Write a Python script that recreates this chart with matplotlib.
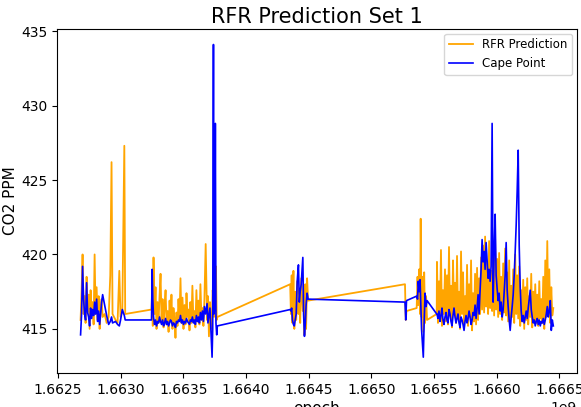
"""RFR prediction vs Cape Point CO2 observations (set 1)."""

import matplotlib

matplotlib.use("Agg")
import matplotlib.pyplot as plt  # noqa: E402
import numpy as np  # noqa: E402

# epoch timestamps in thousands of seconds, one list per observation run
T_RUN1 = [1662681, 1662689, 1662697, 1662705, 1662713, 1662721, 1662729, 1662737,
          1662745, 1662753, 1662761, 1662769, 1662777, 1662785, 1662793, 1662801,
          1662809, 1662817, 1662825, 1662833, 1662841, 1662849, 1662857, 1662873,
          1662889, 1662905, 1662918, 1662928, 1662936, 1662960, 1662976, 1662990,
          1663000, 1663014, 1663030, 1663037]
RFR_RUN1 = [415.6, 417.5, 420.0, 416.0, 417.2, 415.4, 418.5, 416.2, 417.3, 415.0,
            417.6, 416.0, 416.8, 415.3, 420.0, 416.0, 417.8, 415.6, 417.2, 415.0,
            416.5, 417.0, 415.8, 416.0, 415.4, 415.8, 418.6, 426.2, 416.0, 415.6,
            415.4, 418.9, 415.8, 416.2, 427.3, 416.0]
CAPE_RUN1 = [414.6, 416.0, 419.2, 417.0, 416.0, 415.6, 418.1, 416.1, 415.8, 415.2,
             416.4, 415.7, 416.3, 415.9, 416.8, 416.0, 417.0, 415.5, 416.2, 415.3,
             416.0, 416.8, 417.3, 416.6, 415.9, 415.3, 415.5, 415.8, 415.4, 415.5,
             415.3, 415.2, 415.6, 416.3, 415.9, 415.6]

T_RUN2 = [1663247, 1663252, 1663257, 1663263, 1663271, 1663279, 1663287, 1663295,
          1663303, 1663311, 1663319, 1663327, 1663335, 1663343, 1663351, 1663359,
          1663367, 1663375, 1663383, 1663391, 1663398, 1663406, 1663414, 1663422,
          1663430, 1663438, 1663446, 1663454, 1663462, 1663470, 1663478, 1663486,
          1663494, 1663502, 1663510, 1663518, 1663526, 1663534, 1663542, 1663550,
          1663557, 1663565, 1663573, 1663581, 1663589, 1663597, 1663605, 1663613,
          1663621, 1663629, 1663637, 1663645, 1663653, 1663661, 1663669, 1663679,
          1663690, 1663697, 1663705, 1663713, 1663721, 1663730, 1663735, 1663741,
          1663745, 1663751, 1663756, 1663761, 1663767, 1663772]
RFR_RUN2 = [416.3, 417.5, 415.2, 419.8, 416.0, 417.8, 415.0, 416.8, 415.4, 417.2,
            418.7, 415.6, 417.0, 415.1, 416.5, 417.6, 415.3, 416.2, 414.8, 416.9,
            415.5, 417.3, 415.0, 416.4, 415.7, 414.4, 416.1, 415.2, 417.0, 415.6,
            418.4, 415.4, 417.1, 415.0, 416.6, 415.3, 417.4, 415.8, 416.3, 414.9,
            416.8, 415.4, 417.9, 415.6, 416.2, 415.1, 417.6, 415.5, 416.9, 415.3,
            418.0, 415.8, 416.4, 415.2, 417.0, 420.7, 415.6, 417.2, 414.5, 416.8,
            415.0, 416.0, 417.6, 416.8, 415.8, 417.0, 416.3, 419.2, 415.6, 415.8]
CAPE_RUN2 = [415.6, 419.0, 417.0, 415.8, 415.3, 415.6, 415.2, 415.5, 415.4, 415.8,
             415.5, 415.3, 415.6, 415.2, 415.4, 415.7, 415.3, 415.5, 415.2, 415.4,
             415.6, 415.5, 415.2, 415.4, 415.3, 415.1, 415.5, 415.4, 415.6, 415.5,
             415.9, 415.4, 415.6, 415.3, 415.5, 415.4, 415.7, 415.5, 415.4, 415.3,
             415.6, 415.5, 415.8, 415.4, 415.6, 415.3, 415.9, 415.5, 415.8, 415.4,
             416.1, 415.6, 416.2, 415.5, 416.5, 416.0, 416.7, 415.4, 415.9, 416.4,
             414.8, 413.1, 415.0, 434.1, 416.0, 416.5, 428.8, 415.4, 414.6, 415.2]

T_RUN3 = [1664353, 1664359, 1664365, 1664371, 1664379, 1664386, 1664393, 1664401,
          1664409, 1664419, 1664426, 1664433, 1664441, 1664454, 1664460, 1664467,
          1664474, 1664480, 1664488, 1664496]
RFR_RUN3 = [418.0, 416.0, 418.6, 415.4, 418.9, 415.0, 417.5, 415.6, 418.2, 416.0,
            417.6, 415.4, 418.4, 416.2, 417.0, 414.6, 418.0, 415.0, 418.4, 416.9]
CAPE_RUN3 = [416.3, 416.2, 416.4, 415.6, 415.3, 415.2, 415.6, 416.0, 418.2, 419.3,
             416.8, 417.5, 418.0, 419.8, 416.0, 414.5, 415.4, 416.6, 417.4, 417.0]

T_RUN4 = [1665269, 1665275, 1665281, 1665362, 1665369, 1665375, 1665382, 1665389,
          1665394, 1665401, 1665407, 1665415, 1665422, 1665429, 1665437, 1665445,
          1665522,
          1665524, 1665532, 1665540, 1665548, 1665556, 1665564, 1665572, 1665580,
          1665588, 1665596, 1665604, 1665612, 1665620, 1665628, 1665636, 1665644,
          1665652, 1665660, 1665668, 1665676, 1665684, 1665692, 1665700, 1665708,
          1665716, 1665724, 1665732, 1665740, 1665748, 1665756, 1665764, 1665772,
          1665780, 1665788, 1665796, 1665804, 1665812, 1665820, 1665828, 1665836,
          1665844, 1665852, 1665860, 1665868, 1665876, 1665884, 1665892, 1665900,
          1665908, 1665916, 1665924, 1665932, 1665940, 1665948, 1665956, 1665964,
          1665972, 1665980, 1665988, 1665996, 1666004, 1666012, 1666020, 1666028,
          1666036, 1666044, 1666052, 1666060, 1666068, 1666076, 1666084, 1666092,
          1666100, 1666108, 1666116, 1666124, 1666132, 1666140, 1666148, 1666156,
          1666164, 1666172, 1666180, 1666188, 1666196, 1666204, 1666212, 1666220,
          1666228, 1666236, 1666244, 1666252, 1666260, 1666268, 1666276, 1666284,
          1666292, 1666300, 1666308, 1666316, 1666324, 1666332, 1666340, 1666348,
          1666356, 1666364, 1666372, 1666380, 1666388, 1666396, 1666404, 1666412,
          1666420, 1666428, 1666436, 1666444, 1666452]
RFR_RUN4 = [418.0, 415.6, 416.2, 416.4, 418.5, 416.6, 419.0, 416.0, 422.4, 415.8,
            418.5, 414.8, 418.8, 415.4, 417.2, 415.6, 416.0,
            419.5, 415.4, 418.2, 415.8, 420.3, 415.2, 417.6, 416.0, 419.0, 415.5,
            418.6, 415.3, 420.5, 415.9, 417.9, 415.1, 419.6, 416.2, 418.1, 415.4,
            419.9, 415.7, 417.5, 415.0, 420.2, 416.0, 418.8, 415.3, 417.2, 415.6,
            419.3, 415.2, 418.0, 415.8, 419.6, 414.9, 417.4, 415.5, 418.7, 415.3,
            419.1, 415.6, 418.4, 416.0, 419.8, 416.3, 420.6, 416.1, 421.2, 416.5,
            419.5, 416.0, 420.9, 416.4, 418.9, 416.2, 420.3, 415.9, 421.0, 416.3,
            419.7, 415.8, 420.1, 416.0, 418.5, 415.6, 419.4, 416.1, 420.4, 415.9,
            418.8, 415.5, 419.6, 415.3, 417.9, 415.8, 419.0, 415.4, 420.0, 416.0,
            418.6, 415.7, 419.2, 415.2, 417.6, 415.5, 418.3, 415.0, 417.8, 415.6,
            418.4, 415.3, 417.2, 415.8, 418.7, 415.1, 417.5, 415.6, 418.0, 415.4,
            417.3, 415.2, 418.2, 415.7, 417.0, 415.4, 418.5, 415.0, 419.6, 415.8,
            420.9, 416.0, 419.0, 415.4, 417.8, 415.9, 416.4]
CAPE_RUN4 = [416.8, 415.6, 416.9, 417.2, 417.0, 418.2, 417.5, 418.3, 417.0, 415.0,
             414.2, 413.1, 415.5, 417.4, 416.5, 416.9, 416.0,
             416.0, 415.7, 416.2, 415.5, 415.9, 416.4, 415.6, 415.3, 415.8, 416.1,
             415.6, 415.4, 416.3, 416.0, 415.5, 415.2, 415.9, 416.4, 415.8, 415.4,
             415.7, 416.0, 415.4, 415.1, 415.8, 415.6, 415.3, 414.9, 415.5, 415.9,
             415.4, 415.7, 416.2, 415.8, 415.3, 415.6, 416.1, 415.9, 416.6, 415.7,
             416.4, 417.3, 416.0, 417.6, 419.0, 421.0, 419.5, 420.2, 419.0, 420.8,
             419.6, 418.4, 419.0, 418.2, 419.2, 428.8, 416.8, 420.0, 422.7, 418.6,
             417.7, 416.9, 417.4, 416.2, 416.8, 415.8, 416.3, 417.5, 418.6, 420.8,
             417.6, 416.5, 415.6, 414.9, 415.8, 416.5, 417.3, 418.6, 420.2, 422.0,
             424.3, 427.0, 420.6, 417.8, 416.2, 415.5, 415.9, 415.4, 415.8, 416.2,
             415.7, 416.4, 417.0, 417.6, 416.3, 415.8, 415.4, 415.6, 415.2, 415.5,
             415.7, 415.3, 415.6, 415.2, 415.5, 415.4, 415.7, 415.3, 415.6, 416.0,
             416.5, 415.8, 416.2, 416.9, 414.9, 415.6, 415.2]


def main():
    epoch = np.array(T_RUN1 + T_RUN2 + T_RUN3 + T_RUN4, dtype=float) * 1e3
    rfr = np.array(RFR_RUN1 + RFR_RUN2 + RFR_RUN3 + RFR_RUN4)
    cape = np.array(CAPE_RUN1 + CAPE_RUN2 + CAPE_RUN3 + CAPE_RUN4)

    fig = plt.figure(figsize=(5.81, 4.07), dpi=100)
    ax = fig.add_axes([0.098, 0.084, 0.895, 0.845])
    ax.plot(epoch, rfr, color="orange", linewidth=1.3, label="RFR Prediction")
    ax.plot(epoch, cape, color="blue", linewidth=1.2, label="Cape Point")
    ax.set_title("RFR Prediction Set 1", fontsize=15, pad=4)
    ax.set_xlabel("epoch", fontsize=11, labelpad=3)
    ax.set_ylabel("CO2 PPM", fontsize=11, labelpad=2)
    ax.set_yticks([415, 420, 425, 430, 435])
    ax.tick_params(labelsize=10)
    ax.legend(loc="upper right", fontsize=8.5, borderaxespad=0.4)
    fig.savefig("out.png", dpi=100)
    plt.close(fig)


if __name__ == "__main__":
    main()
